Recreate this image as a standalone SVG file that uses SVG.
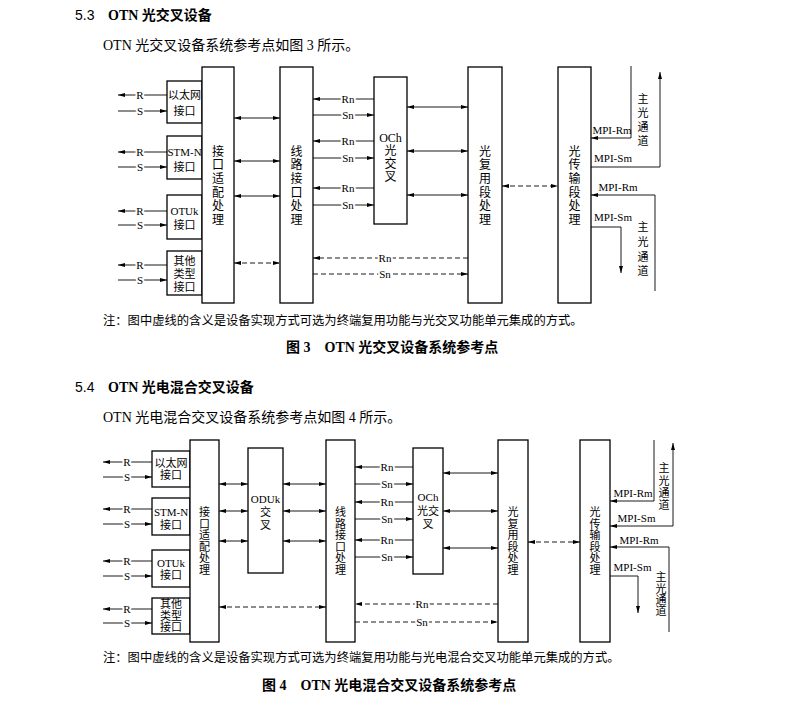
<svg xmlns="http://www.w3.org/2000/svg" width="789" height="721" viewBox="0 0 789 721">
<defs>
<style>
.box{fill:#fff;stroke:#000;stroke-width:1.3}
.ln{fill:none;stroke:#000;stroke-width:0.9}
.dash{stroke-dasharray:5 3}
.t{font-family:'Liberation Serif','Noto Sans CJK SC',serif;font-size:11px;fill:#000}
.c{text-anchor:middle}
.lbl{paint-order:stroke;stroke:#fff;stroke-width:4px;stroke-linejoin:round}
.v{font-size:12px}
.v4{font-size:11px}
.b{font-family:'Liberation Serif','Noto Sans CJK SC',serif;font-weight:bold;font-size:14px;fill:#000}
.n{font-family:'Liberation Sans',sans-serif;font-size:14px;fill:#000}
.body{font-family:'Liberation Serif','Noto Sans CJK SC',serif;font-size:14px;fill:#000}
.note{font-family:'Liberation Serif','Noto Sans CJK SC',serif;font-size:12.3px;fill:#000}
.cap{font-family:'Liberation Serif','Noto Sans CJK SC',serif;font-weight:bold;font-size:14px;fill:#000}
</style>
<marker id="ah" viewBox="0 0 7 4" refX="7" refY="2" markerWidth="7" markerHeight="4" markerUnits="userSpaceOnUse" orient="auto-start-reverse"><path d="M0,0 L7,2 L0,4 z" fill="#000"/></marker>
</defs>
<rect width="789" height="721" fill="#fff"/>

<!-- page text -->
<g id="page-text">
<text class="n" x="75" y="20">5.3</text>
<text class="b" x="108" y="20">OTN 光交叉设备</text>
<text class="body" x="103" y="50">OTN 光交叉设备系统参考点如图 3 所示。</text>
<text class="note" x="103" y="325">注：图中虚线的含义是设备实现方式可选为终端复用功能与光交叉功能单元集成的方式。</text>
<text class="cap" x="286" y="352">图 3　OTN 光交叉设备系统参考点</text>
<text class="n" x="75" y="392">5.4</text>
<text class="b" x="108" y="392">OTN 光电混合交叉设备</text>
<text class="body" x="103" y="422">OTN 光电混合交叉设备系统参考点如图 4 所示。</text>
<text class="note" x="103" y="662">注：图中虚线的含义是设备实现方式可选为终端复用功能与光电混合交叉功能单元集成的方式。</text>
<text class="cap" x="262" y="690">图 4　OTN 光电混合交叉设备系统参考点</text>
</g>

<!-- ============ Figure 3 ============ -->
<g id="connectors-fig3" class="ln">
<path d="M167,95 H118" marker-end="url(#ah)"/>
<path d="M118,111 H167" marker-end="url(#ah)"/>
<path d="M167,152 H118" marker-end="url(#ah)"/>
<path d="M118,167 H167" marker-end="url(#ah)"/>
<path d="M167,211 H118" marker-end="url(#ah)"/>
<path d="M118,225 H167" marker-end="url(#ah)"/>
<path d="M167,265 H118" marker-end="url(#ah)"/>
<path d="M118,280 H167" marker-end="url(#ah)"/>
<path d="M234,118 H280" marker-start="url(#ah)" marker-end="url(#ah)"/>
<path d="M234,161 H280" marker-start="url(#ah)" marker-end="url(#ah)"/>
<path d="M234,196 H280" marker-start="url(#ah)" marker-end="url(#ah)"/>
<path class="dash" d="M234,263 H280" marker-start="url(#ah)" marker-end="url(#ah)"/>
<path d="M374,99 H313" marker-end="url(#ah)"/>
<path d="M313,115 H374" marker-end="url(#ah)"/>
<path d="M374,141 H313" marker-end="url(#ah)"/>
<path d="M313,158 H374" marker-end="url(#ah)"/>
<path d="M374,188 H313" marker-end="url(#ah)"/>
<path d="M313,205 H374" marker-end="url(#ah)"/>
<path d="M407,107 H468" marker-start="url(#ah)" marker-end="url(#ah)"/>
<path d="M407,151 H468" marker-start="url(#ah)" marker-end="url(#ah)"/>
<path d="M407,195 H468" marker-start="url(#ah)" marker-end="url(#ah)"/>
<path class="dash" d="M468,258 H313" marker-end="url(#ah)"/>
<path class="dash" d="M313,274 H468" marker-end="url(#ah)"/>
<path class="dash" d="M502,186 H558" marker-start="url(#ah)" marker-end="url(#ah)"/>
<path d="M631,66 V138 H591" marker-end="url(#ah)"/>
<path d="M591,167 H660 V72" marker-end="url(#ah)"/>
<path d="M655,291 V195 H591" marker-end="url(#ah)"/>
<path d="M591,227 H621 V273" marker-end="url(#ah)"/>
</g>
<g id="labels-fig3" class="t c">
<text class="lbl" x="140" y="99">R</text>
<text class="lbl" x="140" y="115">S</text>
<text class="lbl" x="140" y="156">R</text>
<text class="lbl" x="140" y="171">S</text>
<text class="lbl" x="140" y="215">R</text>
<text class="lbl" x="140" y="229">S</text>
<text class="lbl" x="140" y="269">R</text>
<text class="lbl" x="140" y="284">S</text>
<text class="lbl" x="348" y="103">Rn</text>
<text class="lbl" x="348" y="119">Sn</text>
<text class="lbl" x="348" y="145">Rn</text>
<text class="lbl" x="348" y="162">Sn</text>
<text class="lbl" x="348" y="192">Rn</text>
<text class="lbl" x="348" y="209">Sn</text>
<text class="lbl" x="385" y="262">Rn</text>
<text class="lbl" x="385" y="278">Sn</text>
<text x="612" y="134">MPI-Rm</text>
<text x="613" y="162">MPI-Sm</text>
<text x="618" y="191">MPI-Rm</text>
<text x="613" y="221">MPI-Sm</text>
<text x="643"><tspan x="643" y="103">主</tspan><tspan x="643" y="117">光</tspan><tspan x="643" y="131">通</tspan><tspan x="643" y="145">道</tspan></text>
<text x="643"><tspan x="643" y="231">主</tspan><tspan x="643" y="246">光</tspan><tspan x="643" y="261">通</tspan><tspan x="643" y="275">道</tspan></text>
</g>

<g id="f3-eth"><rect class="box" x="167" y="81" width="35" height="42"/><text class="t c"><tspan x="184.5" y="99">以太网</tspan><tspan x="184.5" y="115">接口</tspan></text></g>
<g id="f3-stm"><rect class="box" x="167" y="136" width="35" height="43"/><text class="t c"><tspan x="184.5" y="156">STM-N</tspan><tspan x="184.5" y="171">接口</tspan></text></g>
<g id="f3-otu"><rect class="box" x="167" y="195" width="35" height="44"/><text class="t c"><tspan x="184.5" y="215">OTUk</tspan><tspan x="184.5" y="229">接口</tspan></text></g>
<g id="f3-oth"><rect class="box" x="167" y="251" width="35" height="44"/><text class="t c"><tspan x="184.5" y="265">其他</tspan><tspan x="184.5" y="278">类型</tspan><tspan x="184.5" y="291">接口</tspan></text></g>
<g id="f3-adapt"><rect class="box" x="202" y="67" width="32" height="236"/><text class="t c v"><tspan x="218" y="155.6">接</tspan><tspan x="218" y="169.3">口</tspan><tspan x="218" y="183">适</tspan><tspan x="218" y="196.6">配</tspan><tspan x="218" y="210.4">处</tspan><tspan x="218" y="224">理</tspan></text></g>
<g id="f3-line"><rect class="box" x="280" y="67" width="33" height="236"/><text class="t c v"><tspan x="296.5" y="155.6">线</tspan><tspan x="296.5" y="169.3">路</tspan><tspan x="296.5" y="183">接</tspan><tspan x="296.5" y="196.6">口</tspan><tspan x="296.5" y="210.4">处</tspan><tspan x="296.5" y="224">理</tspan></text></g>
<g id="f3-och"><rect class="box" x="374" y="77" width="33" height="147"/><text class="t c v"><tspan x="390.5" y="141.5">OCh</tspan><tspan x="390.5" y="155">光</tspan><tspan x="390.5" y="168">交</tspan><tspan x="390.5" y="181">叉</tspan></text></g>
<g id="f3-oms"><rect class="box" x="468" y="67" width="34" height="236"/><text class="t c v"><tspan x="485" y="155.6">光</tspan><tspan x="485" y="169.3">复</tspan><tspan x="485" y="183">用</tspan><tspan x="485" y="196.6">段</tspan><tspan x="485" y="210.4">处</tspan><tspan x="485" y="224">理</tspan></text></g>
<g id="f3-ots"><rect class="box" x="558" y="67" width="33" height="236"/><text class="t c v"><tspan x="574.5" y="155.6">光</tspan><tspan x="574.5" y="169.3">传</tspan><tspan x="574.5" y="183">输</tspan><tspan x="574.5" y="196.6">段</tspan><tspan x="574.5" y="210.4">处</tspan><tspan x="574.5" y="224">理</tspan></text></g>

<!-- ============ Figure 4 ============ -->
<g id="connectors-fig4" class="ln">
<path d="M152,462 H103" marker-end="url(#ah)"/>
<path d="M103,477 H152" marker-end="url(#ah)"/>
<path d="M152,509 H103" marker-end="url(#ah)"/>
<path d="M103,524 H152" marker-end="url(#ah)"/>
<path d="M152,561 H103" marker-end="url(#ah)"/>
<path d="M103,576 H152" marker-end="url(#ah)"/>
<path d="M152,609 H103" marker-end="url(#ah)"/>
<path d="M103,623 H152" marker-end="url(#ah)"/>
<path d="M219,484 H248" marker-start="url(#ah)" marker-end="url(#ah)"/>
<path d="M219,511 H248" marker-start="url(#ah)" marker-end="url(#ah)"/>
<path d="M219,541 H248" marker-start="url(#ah)" marker-end="url(#ah)"/>
<path d="M283,484 H326" marker-start="url(#ah)" marker-end="url(#ah)"/>
<path d="M283,511 H326" marker-start="url(#ah)" marker-end="url(#ah)"/>
<path d="M283,541 H326" marker-start="url(#ah)" marker-end="url(#ah)"/>
<path class="dash" d="M219,607 H326" marker-start="url(#ah)" marker-end="url(#ah)"/>
<path d="M413,467 H355" marker-end="url(#ah)"/>
<path d="M355,484 H413" marker-end="url(#ah)"/>
<path d="M413,502 H355" marker-end="url(#ah)"/>
<path d="M355,519 H413" marker-end="url(#ah)"/>
<path d="M413,540 H355" marker-end="url(#ah)"/>
<path d="M355,557 H413" marker-end="url(#ah)"/>
<path d="M443,473 H498" marker-start="url(#ah)" marker-end="url(#ah)"/>
<path d="M443,511 H498" marker-start="url(#ah)" marker-end="url(#ah)"/>
<path d="M443,548 H498" marker-start="url(#ah)" marker-end="url(#ah)"/>
<path class="dash" d="M498,604 H355" marker-end="url(#ah)"/>
<path class="dash" d="M355,622 H498" marker-end="url(#ah)"/>
<path class="dash" d="M528,542 H580" marker-start="url(#ah)" marker-end="url(#ah)"/>
<path d="M654,440 V501 H610" marker-end="url(#ah)"/>
<path d="M610,526 H673 V443" marker-start="url(#ah)" marker-end="url(#ah)"/>
<path d="M669,632 V547 H610" marker-end="url(#ah)"/>
<path d="M610,576 H638 V613" marker-end="url(#ah)"/>
</g>
<g id="labels-fig4" class="t c">
<text class="lbl" x="127" y="466">R</text>
<text class="lbl" x="127" y="481">S</text>
<text class="lbl" x="127" y="513">R</text>
<text class="lbl" x="127" y="528">S</text>
<text class="lbl" x="127" y="565">R</text>
<text class="lbl" x="127" y="580">S</text>
<text class="lbl" x="127" y="613">R</text>
<text class="lbl" x="127" y="627">S</text>
<text class="lbl" x="387" y="471">Rn</text>
<text class="lbl" x="387" y="488">Sn</text>
<text class="lbl" x="387" y="506">Rn</text>
<text class="lbl" x="387" y="523">Sn</text>
<text class="lbl" x="387" y="544">Rn</text>
<text class="lbl" x="387" y="561">Sn</text>
<text class="lbl" x="422" y="608">Rn</text>
<text class="lbl" x="422" y="626">Sn</text>
<text x="633" y="497">MPI-Rm</text>
<text x="636.5" y="522">MPI-Sm</text>
<text x="639" y="544">MPI-Rm</text>
<text x="632.5" y="571">MPI-Sm</text>
<text x="664"><tspan x="664" y="472">主</tspan><tspan x="664" y="484.5">光</tspan><tspan x="664" y="497">通</tspan><tspan x="664" y="509">道</tspan></text>
<text x="661"><tspan x="661" y="581">主</tspan><tspan x="661" y="592.5">光</tspan><tspan x="661" y="603.5">通</tspan><tspan x="661" y="614.5">道</tspan></text>
</g>

<g id="f4-eth"><rect class="box" x="152" y="451" width="38" height="36"/><text class="t c"><tspan x="171" y="467">以太网</tspan><tspan x="171" y="479">接口</tspan></text></g>
<g id="f4-stm"><rect class="box" x="152" y="498" width="38" height="37"/><text class="t c"><tspan x="171" y="515.5">STM-N</tspan><tspan x="171" y="528.5">接口</tspan></text></g>
<g id="f4-otu"><rect class="box" x="152" y="550" width="38" height="37"/><text class="t c"><tspan x="171" y="566.5">OTUk</tspan><tspan x="171" y="578.5">接口</tspan></text></g>
<g id="f4-oth"><rect class="box" x="152" y="598" width="38" height="36"/><text class="t c"><tspan x="171" y="608">其他</tspan><tspan x="171" y="619.5">类型</tspan><tspan x="171" y="631">接口</tspan></text></g>
<g id="f4-adapt"><rect class="box" x="190" y="440" width="29" height="202"/><text class="t c v4"><tspan x="204.5" y="516">接</tspan><tspan x="204.5" y="527.5">口</tspan><tspan x="204.5" y="539">适</tspan><tspan x="204.5" y="550.5">配</tspan><tspan x="204.5" y="562">处</tspan><tspan x="204.5" y="573.5">理</tspan></text></g>
<g id="f4-oduk"><rect class="box" x="248" y="448" width="35" height="125"/><text class="t c v4"><tspan x="265.5" y="503">ODUk</tspan><tspan x="265.5" y="516">交</tspan><tspan x="265.5" y="529">叉</tspan></text></g>
<g id="f4-line"><rect class="box" x="326" y="440" width="29" height="202"/><text class="t c v4"><tspan x="340.5" y="516">线</tspan><tspan x="340.5" y="527.5">路</tspan><tspan x="340.5" y="539">接</tspan><tspan x="340.5" y="550.5">口</tspan><tspan x="340.5" y="562">处</tspan><tspan x="340.5" y="573.5">理</tspan></text></g>
<g id="f4-och"><rect class="box" x="413" y="448" width="30" height="126"/><text class="t c v4"><tspan x="428" y="500.5">OCh</tspan><tspan x="428" y="515">光交</tspan><tspan x="428" y="528">叉</tspan></text></g>
<g id="f4-oms"><rect class="box" x="498" y="440" width="30" height="202"/><text class="t c v4"><tspan x="513" y="516">光</tspan><tspan x="513" y="527.5">复</tspan><tspan x="513" y="539">用</tspan><tspan x="513" y="550.5">段</tspan><tspan x="513" y="562">处</tspan><tspan x="513" y="573.5">理</tspan></text></g>
<g id="f4-ots"><rect class="box" x="580" y="440" width="30" height="202"/><text class="t c v4"><tspan x="595" y="516">光</tspan><tspan x="595" y="527.5">传</tspan><tspan x="595" y="539">输</tspan><tspan x="595" y="550.5">段</tspan><tspan x="595" y="562">处</tspan><tspan x="595" y="573.5">理</tspan></text></g>
</svg>
